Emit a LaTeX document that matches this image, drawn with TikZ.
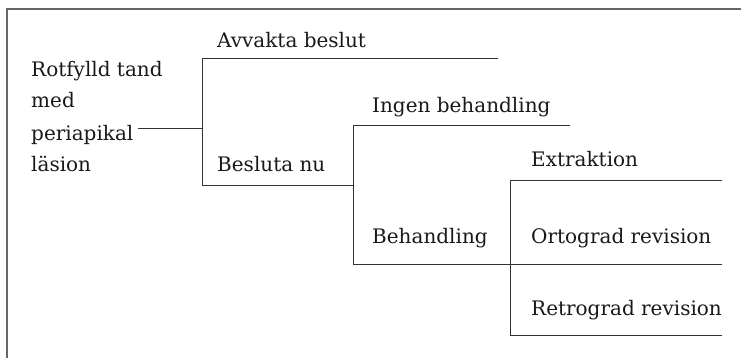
\documentclass[tikz,border=0pt]{standalone}
\usepackage{fontspec}
\setmainfont{DejaVu Serif}
\tikzset{
  lbl/.style={anchor=base west, inner sep=0pt, font=\fontsize{20}{32}\selectfont, text=black!90},
  branch/.style={draw=black!80, line width=1pt},
  frame/.style={draw=black!60, line width=1.2pt}
}
\begin{document}
\begin{tikzpicture}[x=1pt,y=-1pt]
\useasboundingbox (0,0) rectangle (741,358);
% frame (top and left only)
\coordinate (fb) at (7,358);
\coordinate (ftl) at (7,9);
\coordinate (ftr) at (741,9);
\draw[frame] (fb) -- (ftl) -- (ftr);
% root text (anchored at the baseline of its last line)
\node[lbl, align=left] (root) at (31,172) {Rotfylld tand\\med\\periapikal\\läsion};
\coordinate (rootend) at (138,129);
% junction coordinates
\coordinate (j1t) at (202,59);
\coordinate (j1m) at (202,129);
\coordinate (j1b) at (202,186);
\coordinate (e1) at (498,59);
\coordinate (j2t) at (353,126);
\coordinate (j2m) at (353,186);
\coordinate (j2b) at (353,264);
\coordinate (e2) at (570,126);
\coordinate (j3t) at (510,181);
\coordinate (j3m) at (510,264);
\coordinate (j3b) at (510,335);
\coordinate (e3t) at (722,181);
\coordinate (e3m) at (722,264);
\coordinate (e3b) at (722,335);
% labels
\node[lbl] (avv) at (217,48) {Avvakta beslut};
\node[lbl] (bes) at (217,172) {Besluta nu};
\node[lbl] (ing) at (372,113) {Ingen behandling};
\node[lbl] (beh) at (372,243) {Behandling};
\node[lbl] (ext) at (531,167) {Extraktion};
\node[lbl] (ort) at (531,243) {Ortograd revision};
\node[lbl] (ret) at (531,315) {Retrograd revision};
% branches
\draw[branch] (rootend) -- (j1m);
\draw[branch] (e1) -- (j1t) -- (j1b) -- (j2m);
\draw[branch] (e2) -- (j2t) -- (j2b) -- (j3m);
\draw[branch] (e3t) -- (j3t) -- (j3b) -- (e3b);
\draw[branch] (j3m) -- (e3m);
\end{tikzpicture}
\end{document}
